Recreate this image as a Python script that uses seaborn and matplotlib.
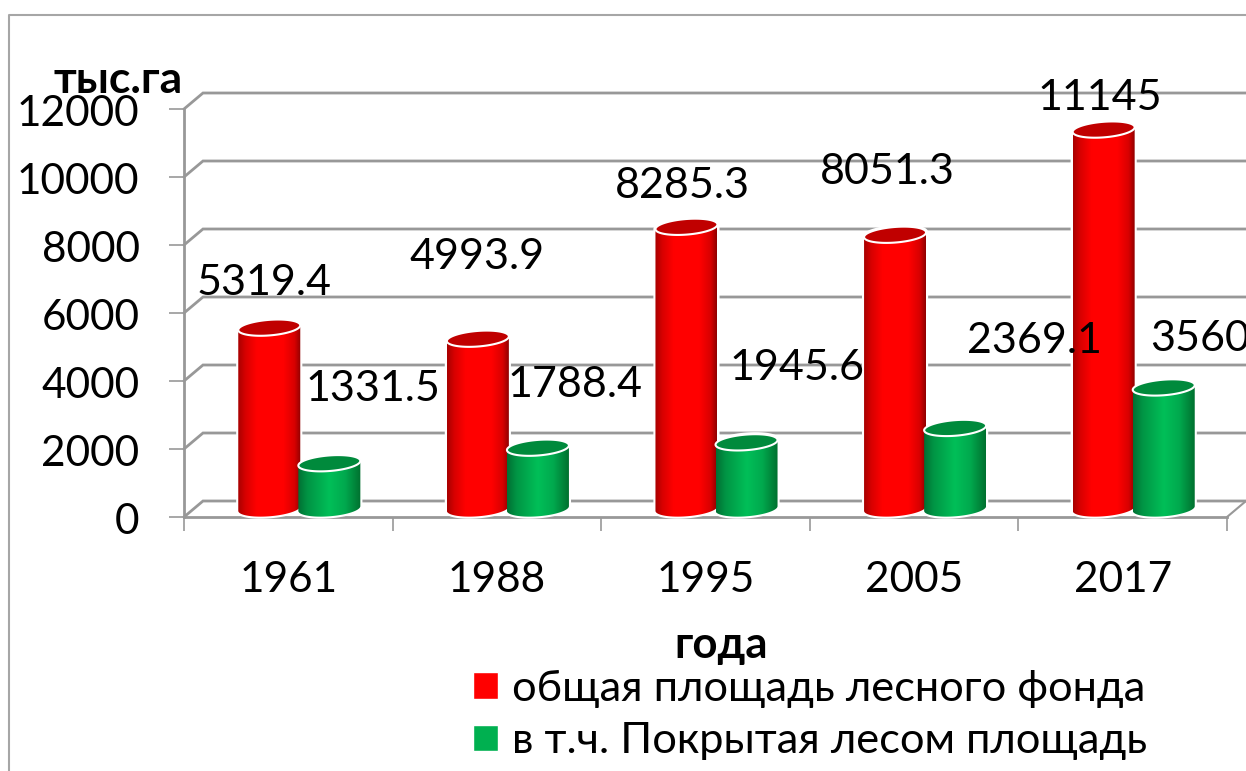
import numpy as np
import pandas as pd
import seaborn as sns
import matplotlib.pyplot as plt
from matplotlib.colors import LinearSegmentedColormap
from matplotlib.lines import Line2D
from matplotlib.patches import Polygon
from matplotlib.transforms import ScaledTranslation

years = ['1961', '1988', '1995', '2005', '2017']
total_area = [5319.4, 4993.9, 8285.3, 8051.3, 11145]
forest_area = [1331.5, 1788.4, 1945.6, 2369.1, 3560]
series_names = ['общая площадь лесного фонда', 'в т.ч. Покрытая лесом площадь']
y_levels = [0, 2000, 4000, 6000, 8000, 10000, 12000]

# data labels were moved by hand in the original, so these are pixel centres
label_px_total = [(264, 283), (477, 257), (682, 186), (887, 172), (1100, 98)]
label_px_forest = [(373, 389), (575, 385), (797, 368), (1034, 341), (1200, 339)]

W, H = 1246, 771
GREY = '#989898'
FONT = 30.5

sns.set_theme(style='white')
plt.rcParams['font.family'] = ['Lato', 'Open Sans', 'DejaVu Sans']
plt.rcParams['text.color'] = 'black'

df = pd.DataFrame({
    'year': years * 2,
    'value': total_area + forest_area,
    'series': [series_names[0]] * 5 + [series_names[1]] * 5,
})

fig = plt.figure(figsize=(W / 100, H / 100), dpi=100)
ax = fig.add_axes([184 / W, 1 - 517 / H, 1043 / W, 408 / H])
sns.barplot(data=df, x='year', y='value', hue='series', palette=['#ff0000', '#00b050'],
            width=0.576, gap=0, errorbar=None, saturation=1, ax=ax)
ax.set_xlim(-0.5, 4.5)
ax.set_ylim(0, 12000)

px_x = 5 / 1043   # one pixel in category units
px_y = 12000 / 408  # one pixel in value units

# back wall and floor
back_dx, back_dy = 19 * px_x, 16 * px_y
for v in y_levels:
    ax.plot([-0.5, -0.5 + back_dx, 4.5 + back_dx], [v, v + back_dy, v + back_dy],
            color=GREY, lw=2, clip_on=False, zorder=1, solid_joinstyle='miter')
ax.plot([4.5, 4.5 + back_dx], [0, back_dy], color=GREY, lw=1.5, clip_on=False, zorder=1)

red_cmap = LinearSegmentedColormap.from_list(
    'r', [(0, '#a80000'), (0.12, '#d80000'), (0.3, '#ff0000'), (0.72, '#ff0000'), (0.9, '#d80000'), (1, '#900000')])
green_cmap = LinearSegmentedColormap.from_list(
    'g', [(0, '#006f33'), (0.15, '#009444'), (0.5, '#00bf58'), (0.75, '#00a94e'), (1, '#00702f')])
shade = np.linspace(0, 1, 256).reshape(1, -1)


def ellipse(cx, cy, a, b, t):
    slope = 0.075 * px_y / px_x
    x = cx + a * np.cos(t)
    y = cy + b * np.sin(t) + slope * a * np.cos(t)
    return np.column_stack([x, y])


lift = 8.5 * px_y
half_h = 7.8 * px_y
half_w = 31 * px_x
shift_x = 11 * px_x

for container, cmap, top_col in zip(ax.containers, [red_cmap, green_cmap], ['#c00000', '#008a3c']):
    for bar in container:
        cx = bar.get_x() + bar.get_width() / 2 + shift_x
        base, top = lift, lift + bar.get_height()
        bar.set_visible(False)
        lower = ellipse(cx, base, half_w, half_h, np.linspace(np.pi, 2 * np.pi, 50))
        upper = ellipse(cx, top, half_w, half_h, np.linspace(0, np.pi, 50))
        body = Polygon(np.vstack([lower, upper]), closed=True, facecolor='white', edgecolor='white',
                       lw=3, zorder=3, clip_on=False)
        ax.add_patch(body)
        clip = Polygon(np.vstack([lower, upper]), closed=True, facecolor='none', edgecolor='none', zorder=3)
        ax.add_patch(clip)
        ymax = top + half_h + half_w * 0.08 * px_y / px_x
        im = ax.imshow(shade, cmap=cmap, extent=[cx - half_w, cx + half_w, 0, ymax], aspect='auto',
                       interpolation='bilinear', zorder=3.1)
        im.set_clip_path(clip)
        cap = ellipse(cx, top, half_w, half_h, np.linspace(0, 2 * np.pi, 100))
        ax.add_patch(Polygon(cap, closed=True, facecolor=top_col, edgecolor='white', lw=1.5, zorder=3.2))

ax.set_xlim(-0.5, 4.5)
ax.set_ylim(0, 12000)
ax.set_yticks(y_levels)
sns.despine(ax=ax, top=True, right=True)
for side in ['left', 'bottom']:
    ax.spines[side].set_color(GREY)
    ax.spines[side].set_linewidth(2)
    ax.spines[side].set_zorder(2)
ax.set_xticks(np.arange(-0.5, 5.5, 1), minor=True)
ax.set_xticks(range(5))
ax.set_xticklabels(years)
ax.tick_params(axis='x', which='major', length=0, pad=32, labelsize=FONT, labelcolor='black')
ax.tick_params(axis='x', which='minor', length=10, width=1.2, color=GREY, bottom=True)
ax.tick_params(axis='y', length=11, width=1.2, color=GREY, pad=21, labelsize=FONT, labelcolor='black', left=True)
ax.set_xlabel('')
ax.set_ylabel('')
for lab in ax.get_yticklabels():
    lab.set_transform(lab.get_transform() + ScaledTranslation(0, -2 / 100, fig.dpi_scale_trans))

sns.move_legend(ax, 'upper left', bbox_to_anchor=(473 / W, 1 - 670 / H), bbox_transform=fig.transFigure,
                frameon=False, title=None, fontsize=31.2, borderpad=0, borderaxespad=0,
                handlelength=0.57, handleheight=0.57, handletextpad=0.33, labelspacing=0.33)

for value, (x, y) in zip(total_area + forest_area, label_px_total + label_px_forest):
    fig.text(x / W, 1 - y / H, f'{value:g}', ha='center', va='center', fontsize=31, color='black', zorder=5)

fig.text(118 / W, 1 - 80 / H, 'тыс.га', ha='center', va='center', fontsize=32, fontweight='bold', color='black')
fig.text(721 / W, 1 - 645 / H, 'года', ha='center', va='center', fontsize=31.5, fontweight='bold', color='black')

# chart frame, cut off by the screenshot on the right and at the bottom
fig.add_artist(Line2D([9 / W, 9 / W, 1], [0, 1 - 15 / H, 1 - 15 / H], color='#a6a6a6', lw=1.5))

fig.savefig('out.png', dpi=100)
